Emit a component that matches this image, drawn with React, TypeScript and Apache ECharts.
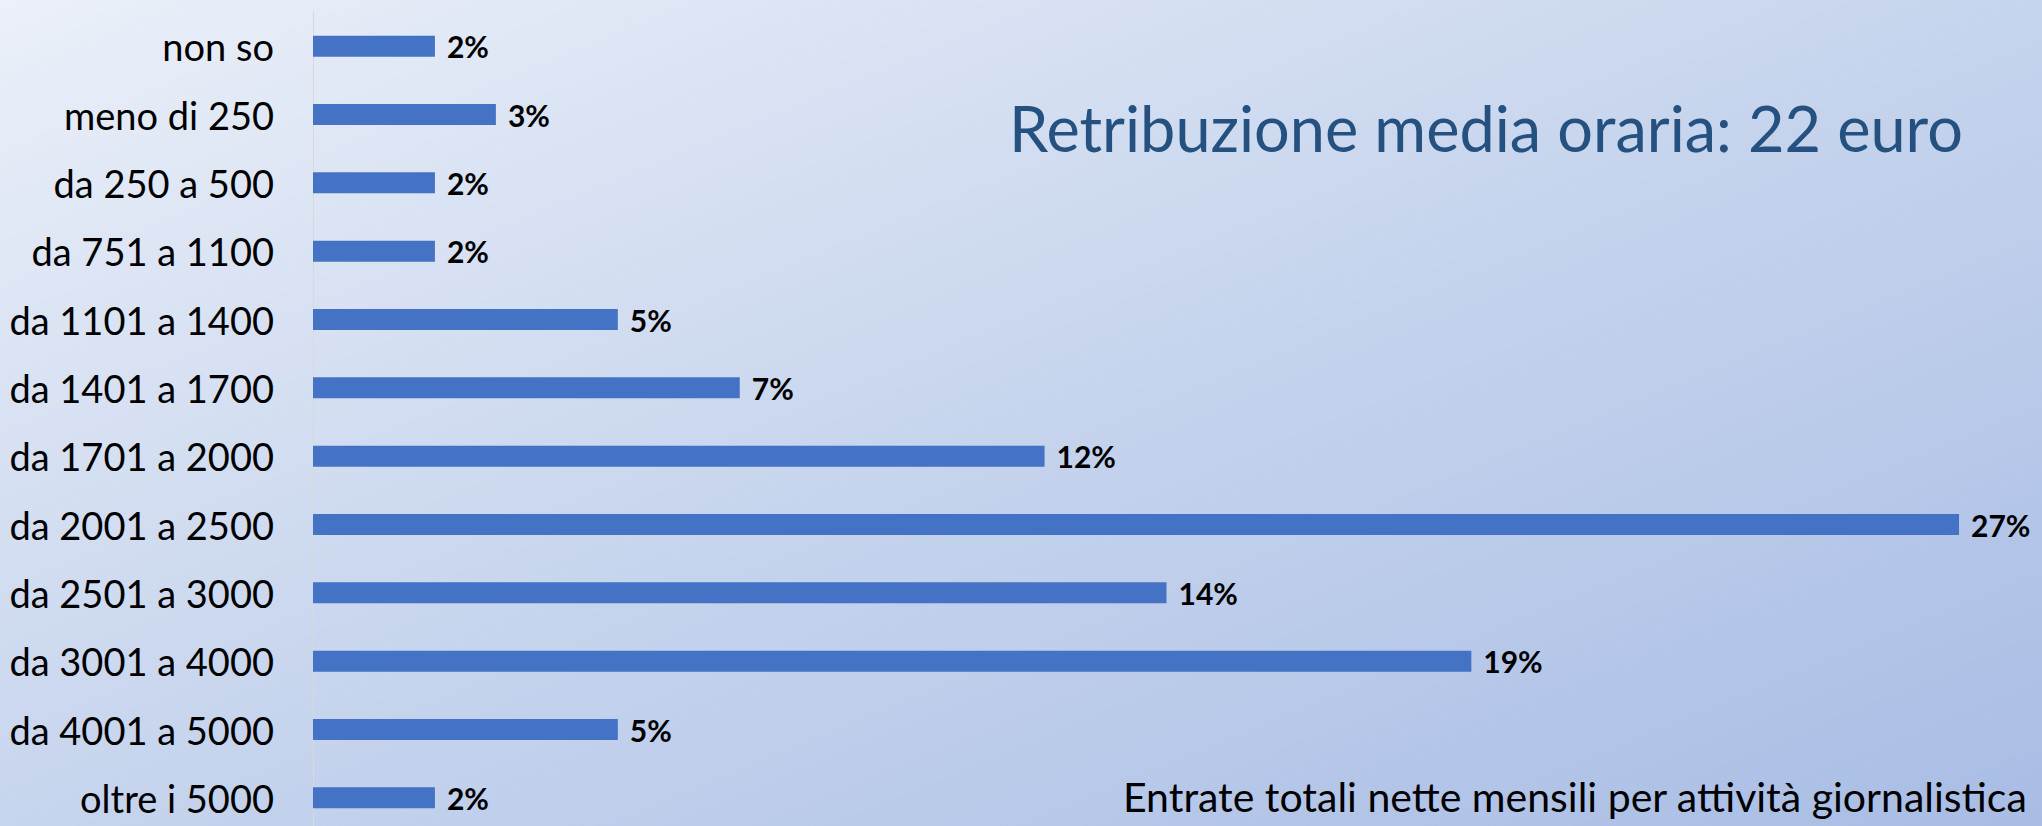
import React, { useEffect, useRef } from "react";
import * as echarts from "echarts";

const categories = [
  "non so",
  "meno di 250",
  "da 250 a 500",
  "da 751 a 1100",
  "da 1101 a 1400",
  "da 1401 a 1700",
  "da 1701 a 2000",
  "da 2001 a 2500",
  "da 2501 a 3000",
  "da 3001 a 4000",
  "da 4001 a 5000",
  "oltre i 5000",
];
const values = [2, 3, 2, 2, 5, 7, 12, 27, 14, 19, 5, 2];
const titleText = "Retribuzione media oraria: 22 euro";
const footText = "Entrate totali nette mensili per attività giornalistica";

export default function App() {
  const ref = useRef<HTMLDivElement>(null);
  useEffect(() => {
    if (!ref.current) return;
    const chart = echarts.init(ref.current, undefined, { renderer: "svg" });
    chart.setOption({
      animation: false,
      backgroundColor: {
        type: "linear",
        x: 0,
        y: 0,
        x2: 1,
        y2: 1,
        colorStops: [
          { offset: 0, color: "#ebf0f9" },
          { offset: 0.5, color: "#c6d4ed" },
          { offset: 1, color: "#a8bce4" },
        ],
      },
      grid: { left: 313, top: 12, width: 1707, bottom: 8 },
      xAxis: {
        type: "value",
        min: 0,
        max: 28,
        show: false,
      },
      yAxis: {
        type: "category",
        data: categories,
        inverse: true,
        axisLine: { show: true, lineStyle: { color: "#d9d9d9", width: 1 } },
        axisTick: { show: false },
        axisLabel: {
          margin: 39,
          color: "#000000",
          fontFamily: "Lato",
          fontSize: 38,
        },
      },
      series: [
        {
          type: "bar",
          data: values,
          barWidth: 21,
          itemStyle: { color: "#4472c4" },
          label: {
            show: true,
            position: "right",
            distance: 12,
            formatter: "{c}%",
            color: "#000000",
            fontFamily: "Lato",
            fontWeight: "bold",
            fontSize: 30,
          },
        },
      ],
      graphic: [
        {
          type: "text",
          left: 1009,
          top: 96,
          style: {
            text: titleText,
            fill: "#24517f",
            font: '400 63px "Lato"',
          },
        },
        {
          type: "text",
          left: 1123,
          top: 776,
          style: {
            text: footText,
            fill: "#000000",
            font: '41px "Lato"',
          },
        },
      ],
    });
    return () => chart.dispose();
  }, []);
  return (
    <div
      style={{
        position: "fixed",
        left: 0,
        top: 0,
        width: 2042,
        height: 826,
        overflow: "hidden",
      }}
    >
      <div ref={ref} style={{ width: 2042, height: 840 }} />
    </div>
  );
}
